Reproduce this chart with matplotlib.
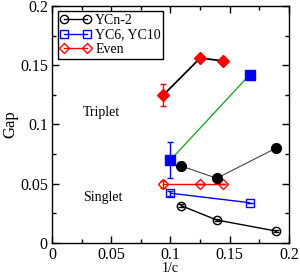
import numpy as np
import matplotlib
matplotlib.use("Agg")
import matplotlib.pyplot as plt
from matplotlib.ticker import MultipleLocator, FormatStrFormatter

plt.rcParams['font.family'] = ['Liberation Serif', 'DejaVu Serif']

# YCn-2, singlet (open) and triplet (filled)
ycn2_x = [0.109, 0.139, 0.189]
ycn2_singlet = [0.0315, 0.0194, 0.0101]
ycn2_singlet_err = [0.0012, 0.0012, 0.0008]
ycn2_triplet = [0.065, 0.0546, 0.080]
ycn2_triplet_err = [0.003, 0.003, 0.0]

# YC6, YC10
yc_x = [0.1, 0.1667]
yc_singlet = [0.042, 0.034]
yc_singlet_err = [0.002, 0.0]
yc_triplet = [0.070, 0.1418]
yc_triplet_err = [0.0155, 0.0]

# Even
even_x = [0.094, 0.125, 0.1446]
even_singlet = [0.0495, 0.0495, 0.0495]
even_singlet_err = [0.003, 0.0, 0.0]
even_triplet = [0.1249, 0.156, 0.1536]
even_triplet_err = [0.009, 0.0, 0.0]

fig = plt.figure(figsize=(3.0, 2.75), dpi=100)
ax = fig.add_axes([0.1733, 0.1164, 0.79, 0.862])

ms = 6
# open symbols (singlet)
ax.plot(ycn2_x, ycn2_singlet, color='black', lw=1, marker='o', ms=ms,
        mfc='none', mec='black', label='YCn-2')
ax.errorbar(ycn2_x, ycn2_singlet, yerr=ycn2_singlet_err, fmt='none', ecolor='black',
            capsize=2, elinewidth=1)
ax.plot(yc_x, yc_singlet, color='blue', lw=1, marker='s', ms=ms - 0.5,
        mfc='none', mec='blue', label='YC6, YC10')
ax.errorbar(yc_x, yc_singlet, yerr=yc_singlet_err, fmt='none', ecolor='blue',
            capsize=2, elinewidth=1)
ax.plot(even_x, even_singlet, color='red', lw=1, marker='D', ms=ms - 0.5,
        mfc='none', mec='red', label='Even')
ax.errorbar(even_x, even_singlet, yerr=even_singlet_err, fmt='none', ecolor='red',
            capsize=2, elinewidth=1)

# filled symbols (triplet)
ax.plot(ycn2_x, ycn2_triplet, color='#444444', lw=0.8)
ax.errorbar(ycn2_x, ycn2_triplet, yerr=ycn2_triplet_err, fmt='o', color='black',
            ms=ms + 1, capsize=2, elinewidth=1)
ax.plot(yc_x, yc_triplet, color='#22aa22', lw=1)
ax.errorbar(yc_x, yc_triplet, yerr=yc_triplet_err, fmt='s', color='blue',
            ms=ms + 0.5, capsize=2, elinewidth=1)
ax.plot(even_x, even_triplet, color='black', lw=1.3)
ax.errorbar(even_x, even_triplet, yerr=even_triplet_err, fmt='D', color='red',
            ms=ms, capsize=2, elinewidth=1)

ax.text(0.042, 0.1097, 'Triplet', fontsize=10, ha='center', va='center')
ax.text(0.043, 0.038, 'Singlet', fontsize=10, ha='center', va='center')

ax.set_xlim(0, 0.2)
ax.set_ylim(0, 0.2)
ax.xaxis.set_major_locator(MultipleLocator(0.05))
ax.xaxis.set_minor_locator(MultipleLocator(0.025))
ax.yaxis.set_major_locator(MultipleLocator(0.05))
ax.yaxis.set_minor_locator(MultipleLocator(0.025))
ax.xaxis.set_major_formatter(FormatStrFormatter('%g'))
ax.yaxis.set_major_formatter(FormatStrFormatter('%g'))
ax.tick_params(which='both', direction='in', top=True, right=True, labelsize=11.5, width=1)
ax.tick_params(which='major', length=5, pad=3)
ax.tick_params(which='minor', length=3)
for s in ax.spines.values():
    s.set_linewidth(1)
ax.set_xlabel('1/c', fontsize=10, labelpad=-1)
ax.set_ylabel('Gap', fontsize=12, labelpad=1)

leg = ax.legend(loc='upper left', fontsize=10, frameon=True, fancybox=False,
                edgecolor='black', framealpha=1, handlelength=2.2, handletextpad=0.3,
                borderpad=0.2, labelspacing=0.1, borderaxespad=0.4, numpoints=2)
leg.get_frame().set_linewidth(1)

fig.savefig('out.png', dpi=100)
